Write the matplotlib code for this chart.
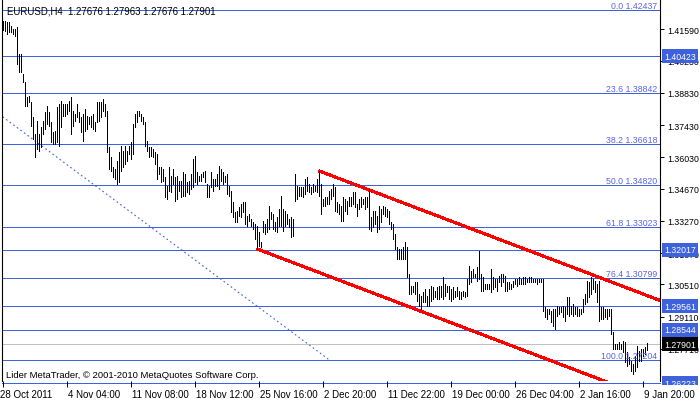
import matplotlib
matplotlib.use('Agg')
import matplotlib.pyplot as plt
from matplotlib.transforms import ScaledTranslation, Bbox, TransformedBbox

# H4 bars (high / low per bar, left to right)
highs = [
    1.4196, 1.4196, 1.4192, 1.4192, 1.4174, 1.4161, 1.4161, 1.4170, 1.4052, 1.4052,
    1.3965, 1.3931, 1.3865, 1.3870, 1.3844, 1.3778, 1.3705, 1.3761, 1.3705, 1.3735,
    1.3761, 1.3800, 1.3826, 1.3800, 1.3757, 1.3713, 1.3718, 1.3822, 1.3835, 1.3848,
    1.3835, 1.3835, 1.3835, 1.3848, 1.3865, 1.3805, 1.3792, 1.3835, 1.3800, 1.3778,
    1.3792, 1.3813, 1.3783, 1.3778, 1.3783, 1.3792, 1.3757, 1.3844, 1.3844, 1.3844,
    1.3857, 1.3835, 1.3805, 1.3648, 1.3605, 1.3561, 1.3552, 1.3587, 1.3626, 1.3652,
    1.3631, 1.3652, 1.3631, 1.3652, 1.3670, 1.3748, 1.3792, 1.3805, 1.3805, 1.3792,
    1.3778, 1.3757, 1.3674, 1.3648, 1.3648, 1.3639, 1.3626, 1.3618, 1.3561, 1.3561,
    1.3552, 1.3518, 1.3478, 1.3561, 1.3522, 1.3552, 1.3518, 1.3522, 1.3500, 1.3500,
    1.3539, 1.3531, 1.3496, 1.3500, 1.3531, 1.3596, 1.3609, 1.3539, 1.3522, 1.3531,
    1.3539, 1.3544, 1.3487, 1.3478, 1.3539, 1.3509, 1.3509, 1.3531, 1.3565, 1.3552,
    1.3539, 1.3522, 1.3531, 1.3478, 1.3457, 1.3409, 1.3365, 1.3370, 1.3387, 1.3400,
    1.3409, 1.3409, 1.3348, 1.3357, 1.3335, 1.3322, 1.3313, 1.3305, 1.3278, 1.3235,
    1.3326, 1.3313, 1.3335, 1.3392, 1.3365, 1.3357, 1.3322, 1.3344, 1.3378, 1.3435,
    1.3378, 1.3370, 1.3357, 1.3335, 1.3344, 1.3335, 1.3531, 1.3478, 1.3474, 1.3474,
    1.3474, 1.3509, 1.3518, 1.3487, 1.3474, 1.3487, 1.3478, 1.3509, 1.3544, 1.3487,
    1.3422, 1.3431, 1.3431, 1.3457, 1.3465, 1.3487, 1.3474, 1.3409, 1.3400, 1.3392,
    1.3431, 1.3422, 1.3413, 1.3431, 1.3431, 1.3452, 1.3452, 1.3400, 1.3422, 1.3431,
    1.3422, 1.3431, 1.3431, 1.3465, 1.3344, 1.3370, 1.3370, 1.3348, 1.3392, 1.3378,
    1.3392, 1.3387, 1.3378, 1.3370, 1.3322, 1.3313, 1.3270, 1.3213, 1.3205, 1.3205,
    1.3213, 1.3235, 1.3213, 1.3096, 1.3044, 1.3044, 1.3061, 1.3061, 1.3009, 1.3000,
    1.3018, 1.3031, 1.3000, 1.3031, 1.3044, 1.3039, 1.3022, 1.3039, 1.3044, 1.3044,
    1.3083, 1.3052, 1.3044, 1.3044, 1.3031, 1.3039, 1.3022, 1.3039, 1.3022, 1.3018,
    1.3022, 1.3018, 1.3074, 1.3131, 1.3109, 1.3118, 1.3096, 1.3126, 1.3196, 1.3096,
    1.3083, 1.3052, 1.3052, 1.3052, 1.3118, 1.3083, 1.3074, 1.3074, 1.3087, 1.3096,
    1.3096, 1.3087, 1.3061, 1.3061, 1.3052, 1.3065, 1.3074, 1.3074, 1.3083, 1.3074,
    1.3083, 1.3083, 1.3074, 1.3083, 1.3083, 1.3074, 1.3074, 1.3074, 1.3074, 1.3074,
    1.3074, 1.2952, 1.2944, 1.2944, 1.2935, 1.2944, 1.2944, 1.2957, 1.2952, 1.2952,
    1.2957, 1.2952, 1.2996, 1.2996, 1.2957, 1.2965, 1.2952, 1.2952, 1.2944, 1.2944,
    1.2987, 1.3009, 1.3065, 1.3061, 1.3083, 1.3074, 1.3065, 1.3052, 1.3065, 1.2952,
    1.2952, 1.2944, 1.2944, 1.2944, 1.2944, 1.2844, 1.2792, 1.2792, 1.2800, 1.2792,
    1.2805, 1.2800, 1.2757, 1.2735, 1.2718, 1.2705, 1.2739, 1.2783, 1.2761, 1.2770,
    1.2770, 1.2778, 1.27963,
]
lows = [
    1.4157, 1.4152, 1.4139, 1.4148, 1.4148, 1.4139, 1.4131, 1.4009, 1.3974, 1.3974,
    1.3931, 1.3826, 1.3826, 1.3844, 1.3739, 1.3683, 1.3605, 1.3639, 1.3631, 1.3648,
    1.3705, 1.3726, 1.3748, 1.3739, 1.3670, 1.3661, 1.3661, 1.3670, 1.3652, 1.3735,
    1.3783, 1.3783, 1.3792, 1.3805, 1.3705, 1.3739, 1.3761, 1.3778, 1.3757, 1.3713,
    1.3674, 1.3718, 1.3726, 1.3748, 1.3735, 1.3726, 1.3718, 1.3757, 1.3761, 1.3778,
    1.3805, 1.3783, 1.3626, 1.3552, 1.3544, 1.3518, 1.3509, 1.3487, 1.3496, 1.3544,
    1.3561, 1.3574, 1.3587, 1.3618, 1.3596, 1.3618, 1.3735, 1.3757, 1.3783, 1.3761,
    1.3748, 1.3652, 1.3631, 1.3605, 1.3609, 1.3605, 1.3574, 1.3509, 1.3531, 1.3496,
    1.3500, 1.3431, 1.3422, 1.3457, 1.3452, 1.3487, 1.3413, 1.3422, 1.3457, 1.3431,
    1.3435, 1.3435, 1.3452, 1.3444, 1.3465, 1.3474, 1.3496, 1.3487, 1.3500, 1.3500,
    1.3518, 1.3496, 1.3431, 1.3431, 1.3474, 1.3457, 1.3478, 1.3478, 1.3465, 1.3500,
    1.3487, 1.3496, 1.3444, 1.3435, 1.3365, 1.3344, 1.3322, 1.3322, 1.3348, 1.3344,
    1.3365, 1.3313, 1.3305, 1.3326, 1.3305, 1.3292, 1.3248, 1.3205, 1.3218, 1.3213,
    1.3278, 1.3270, 1.3278, 1.3292, 1.3335, 1.3292, 1.3283, 1.3278, 1.3305, 1.3305,
    1.3283, 1.3305, 1.3313, 1.3300, 1.3257, 1.3261, 1.3413, 1.3422, 1.3435, 1.3435,
    1.3431, 1.3444, 1.3457, 1.3452, 1.3444, 1.3452, 1.3457, 1.3452, 1.3435, 1.3357,
    1.3392, 1.3392, 1.3400, 1.3400, 1.3422, 1.3435, 1.3370, 1.3365, 1.3357, 1.3326,
    1.3326, 1.3370, 1.3357, 1.3392, 1.3392, 1.3400, 1.3387, 1.3348, 1.3378, 1.3387,
    1.3400, 1.3378, 1.3387, 1.3292, 1.3283, 1.3300, 1.3313, 1.3278, 1.3292, 1.3322,
    1.3357, 1.3348, 1.3344, 1.3313, 1.3292, 1.3248, 1.3205, 1.3161, 1.3161, 1.3161,
    1.3161, 1.3161, 1.3083, 1.3009, 1.3009, 1.3018, 1.3009, 1.2978, 1.2957, 1.2944,
    1.2974, 1.2974, 1.2957, 1.2957, 1.2978, 1.2987, 1.2996, 1.2987, 1.2987, 1.2996,
    1.2987, 1.3000, 1.3018, 1.2987, 1.2978, 1.2987, 1.2996, 1.3000, 1.2987, 1.2987,
    1.3000, 1.2996, 1.3000, 1.3052, 1.3061, 1.3083, 1.3083, 1.3065, 1.3074, 1.3022,
    1.3022, 1.3031, 1.3031, 1.3031, 1.3018, 1.3031, 1.3039, 1.3022, 1.3061, 1.3044,
    1.3061, 1.3022, 1.3022, 1.3031, 1.3031, 1.3039, 1.3052, 1.3044, 1.3052, 1.3052,
    1.3052, 1.3052, 1.3061, 1.3061, 1.3061, 1.3061, 1.3061, 1.3052, 1.3061, 1.3061,
    1.2935, 1.2909, 1.2900, 1.2922, 1.2887, 1.2870, 1.2857, 1.2913, 1.2922, 1.2931,
    1.2909, 1.2892, 1.2922, 1.2913, 1.2922, 1.2913, 1.2922, 1.2913, 1.2913, 1.2922,
    1.2931, 1.2965, 1.2974, 1.2996, 1.3009, 1.3031, 1.3018, 1.2974, 1.2892, 1.2900,
    1.2900, 1.2909, 1.2900, 1.2913, 1.2835, 1.2770, 1.2770, 1.2770, 1.2770, 1.2770,
    1.2757, 1.2713, 1.2696, 1.2705, 1.2674, 1.2661, 1.2674, 1.2692, 1.2718, 1.2718,
    1.2739, 1.2748, 1.27676,
]
assert len(highs) == len(lows)

date_labels = ['28 Oct 2011', '4 Nov 04:00', '11 Nov 08:00', '18 Nov 12:00',
               '25 Nov 16:00', '2 Dec 20:00', '11 Dec 22:00', '19 Dec 00:00',
               '26 Dec 04:00', '2 Jan 16:00', '9 Jan 20:00']
date_bars = [0, 32, 64, 96, 128, 160, 192, 224, 256, 288, 320]

price_ticks = [1.41590, 1.40230, 1.38830, 1.37430, 1.36030, 1.34670,
               1.33270, 1.31870, 1.30510, 1.29110, 1.27710]

fib_pcts = ['0.0', '23.6', '38.2', '50.0', '61.8', '76.4', '100.0']
fib_prices = [1.42437, 1.38842, 1.36618, 1.34820, 1.33023, 1.30799, 1.27204]
level_prices = [1.40423, 1.32017, 1.29561, 1.28544, 1.26223]
bid = 1.27901

# channel anchors (bar index, price) and fibo trend line
upper_chan = ([158, 328.5], [1.3544, 1.2981])
lower_chan = ([127, 328.5], [1.3205, 1.2539])
fib_trend = ([-72, 163.5], [1.42437, 1.27204])

header = 'EURUSD,H4  1.27676 1.27963 1.27676 1.27901'
footer = 'Lider MetaTrader, \u00a9 2001-2010 MetaQuotes Software Corp.'

plt.rcParams['font.family'] = ['Liberation Sans', 'DejaVu Sans']

W, H = 700, 402
blue = '#3d62dc'
fig = plt.figure(figsize=(W / 100, H / 100), dpi=100)
ax = fig.add_axes([2 / W, 20 / H, 658 / W, 382 / H])
ax.set_xlim(-0.5, 328.5)
ax.set_ylim(1.2631, 1.4291)

thin = 0.6
for p in fib_prices + level_prices[:-1]:
    ax.axhline(p, color=blue, lw=thin, antialiased=False, zorder=1)
ax.plot([-0.5, 328.5], [level_prices[-1]] * 2, color=blue, lw=thin,
        antialiased=False, clip_on=False, zorder=1)
ax.axhline(bid, color='#c0c0c0', lw=thin, antialiased=False, zorder=1)

ax.plot(*fib_trend, color=blue, lw=0.8, linestyle=(0, (1.5, 2.5)), zorder=2)
ax.plot(*upper_chan, color='red', lw=1.5, antialiased=False,
        solid_capstyle='butt', zorder=2)
ax.plot(*lower_chan, color='red', lw=1.5, antialiased=False,
        solid_capstyle='butt', zorder=2)

ax.vlines(range(len(highs)), lows, highs, color='black', lw=thin,
          antialiased=False, zorder=3)

ytr = ax.get_yaxis_transform()
for pct, p in zip(fib_pcts, fib_prices):
    ax.text(0.996, p, f'{pct} {p:.5f}', transform=ytr, ha='right',
            va='bottom', fontsize=6.3, color='#5c64e0', zorder=4)

# axes styling
for s in ['top', 'bottom']:
    ax.spines[s].set_visible(False)
for s in ['left', 'right']:
    ax.spines[s].set_linewidth(0.8)
ax.yaxis.tick_right()
ax.set_yticks(price_ticks)
ax.set_yticklabels([f'{v:.5f}' for v in price_ticks])
ax.tick_params(axis='y', length=3, width=0.7, pad=2, labelsize=6.3)
ax.set_xticks(date_bars)
ax.set_xticklabels(date_labels, ha='left')
ax.tick_params(axis='x', length=4, width=0.7, pad=1.5, labelsize=7)
for k, lbl in enumerate(ax.get_xticklabels()):
    dx = -2.5 / 100 if k == 0 else 1.5 / 100
    lbl.set_transform(lbl.get_transform() + ScaledTranslation(dx, 0, fig.dpi_scale_trans))

# price boxes at the right
box_shift = ytr + ScaledTranslation(4 / 100, 0, fig.dpi_scale_trans)
clip = TransformedBbox(Bbox([[0, 16 / H], [1, 1]]), fig.transFigure)
for p in level_prices:
    t = ax.text(1.0, p, f'{p:.5f}', transform=box_shift, ha='left', va='center',
                fontsize=6.3, color='white', zorder=6,
                bbox=dict(boxstyle='square,pad=0.28', fc=blue, ec='none'))
    t.set_clip_box(clip)
    t.set_clip_on(True)
ax.text(1.0, bid, f'{bid:.5f}', transform=box_shift, ha='left', va='center',
        fontsize=6.3, color='white', zorder=6, clip_on=False,
        bbox=dict(boxstyle='square,pad=0.28', fc='black', ec='none'))

fig.text(7 / W, 1 - 11 / H, header, ha='left', va='center', fontsize=6.9)
fig.text(6 / W, 1 - 376 / H, footer, ha='left', va='center', fontsize=6.8)

fig.savefig('out.png', dpi=100)
